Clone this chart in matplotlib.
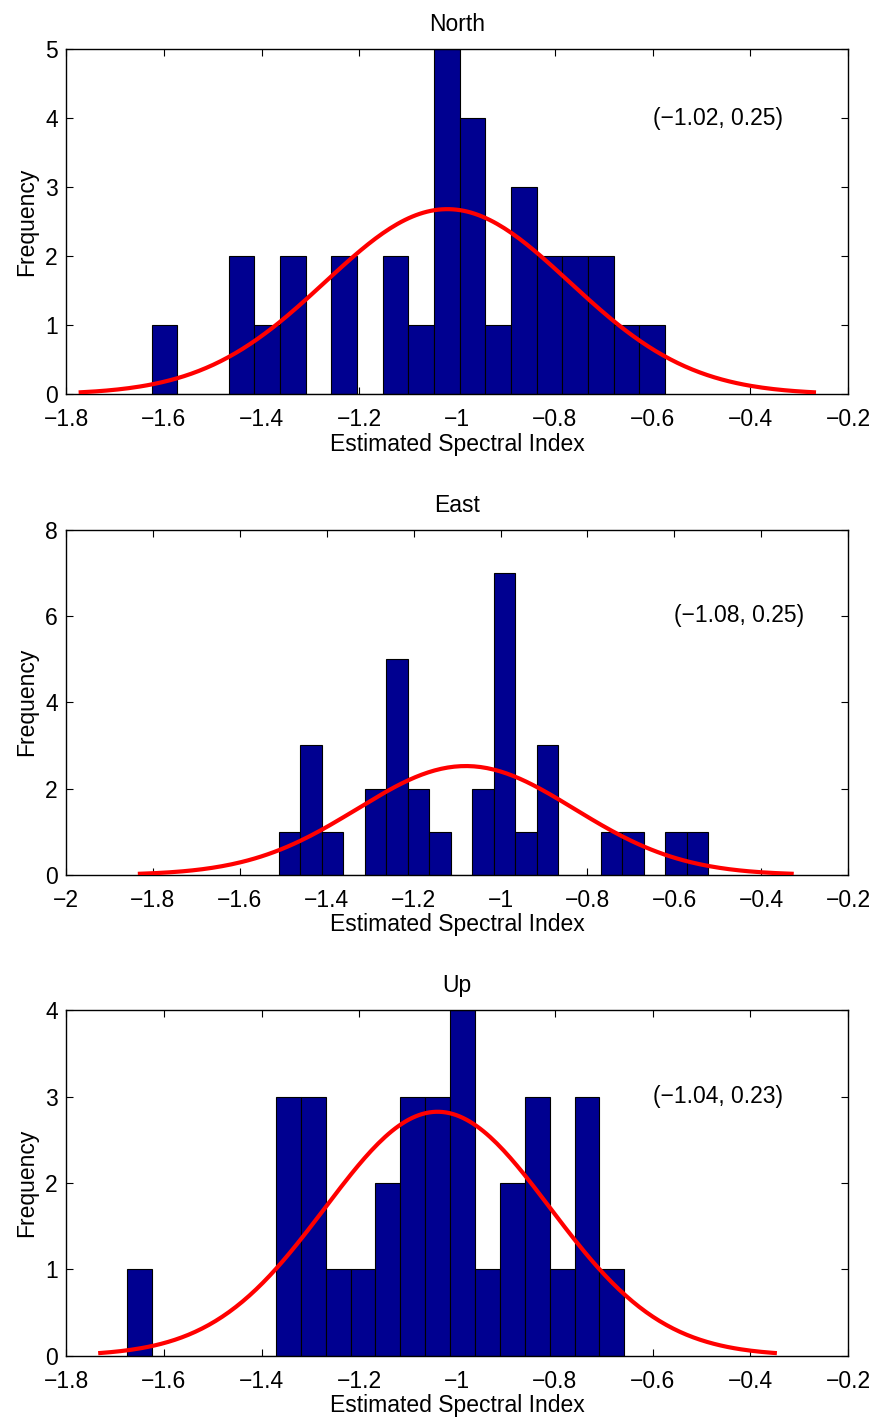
import numpy as np
import matplotlib.pyplot as plt

plt.rcParams['font.family'] = ['Liberation Sans', 'DejaVu Sans']

titles = ["North", "East", "Up"]

# histogram ranges (data min/max) and counts, 20 bins each
bin_min = [-1.625, -1.510, -1.676]
bin_max = [-0.575, -0.522, -0.658]
counts_north = [1, 0, 0, 2, 1, 2, 0, 2, 0, 2, 1, 5, 4, 1, 3, 2, 2, 2, 1, 1]
counts_east = [1, 3, 1, 0, 2, 5, 2, 1, 0, 2, 7, 1, 3, 0, 0, 1, 1, 0, 1, 1]
counts_up = [1, 0, 0, 0, 0, 0, 3, 3, 1, 1, 2, 3, 3, 4, 1, 2, 3, 1, 3, 1]
all_counts = [counts_north, counts_east, counts_up]

# fitted normal (mean, std)
means = [-1.02, -1.08, -1.04]
stds = [0.25, 0.25, 0.23]
label_y = [4, 6, 3]

xlims = [(-1.8, -0.2), (-2.0, -0.2), (-1.8, -0.2)]
xticks = [np.arange(-1.8, -0.19, 0.2), np.arange(-2.0, -0.19, 0.2), np.arange(-1.8, -0.19, 0.2)]
ylims = [5, 8, 4]
ysteps = [1, 2, 1]

fs = 16.5

fig = plt.figure(figsize=(8.69, 14.19), dpi=100)
bottoms = [0.7221, 0.3834, 0.0446]

for i in range(3):
    ax = fig.add_axes([0.076, bottoms[i], 0.900, 0.2434])
    counts = np.array(all_counts[i])
    nb = len(counts)
    w = (bin_max[i] - bin_min[i]) / nb
    edges = bin_min[i] + w * np.arange(nb + 1)
    centers = (edges[:-1] + edges[1:]) / 2
    ax.bar(centers, counts, width=w, color="#000090", edgecolor="black",
           linewidth=0.8, zorder=2)

    mu, sd = means[i], stds[i]
    xs = np.linspace(mu - 3 * sd, mu + 3 * sd, 200)
    ys = counts.sum() * w / (sd * np.sqrt(2 * np.pi)) * np.exp(-0.5 * ((xs - mu) / sd) ** 2)
    ax.plot(xs, ys, color="red", linewidth=3, zorder=3)

    ax.set_xlim(*xlims[i])
    ax.set_ylim(0, ylims[i])
    ax.set_xticks(xticks[i])
    ax.set_xticklabels([("%g" % round(t, 1)).replace("-", "\u2212") for t in xticks[i]])
    ax.set_yticks(np.arange(0, ylims[i] + 0.1, ysteps[i]))
    ax.tick_params(direction="in", top=True, right=True, length=5, width=0.8,
                   labelsize=fs)
    ax.tick_params(axis="x", pad=10)
    ax.tick_params(axis="y", pad=6)
    for s in ax.spines.values():
        s.set_linewidth(1.0)

    ax.set_title(titles[i], fontsize=fs, pad=13)
    ax.set_xlabel("Estimated Spectral Index", fontsize=fs, labelpad=1)
    ax.set_ylabel("Frequency", fontsize=fs, labelpad=5)
    label = "(%s, %.2f)" % (("%.2f" % mu).replace("-", "\u2212"), sd)
    ax.text(-0.6, label_y[i], label, fontsize=fs, ha="left", va="center")

fig.savefig("out.png", dpi=100)
